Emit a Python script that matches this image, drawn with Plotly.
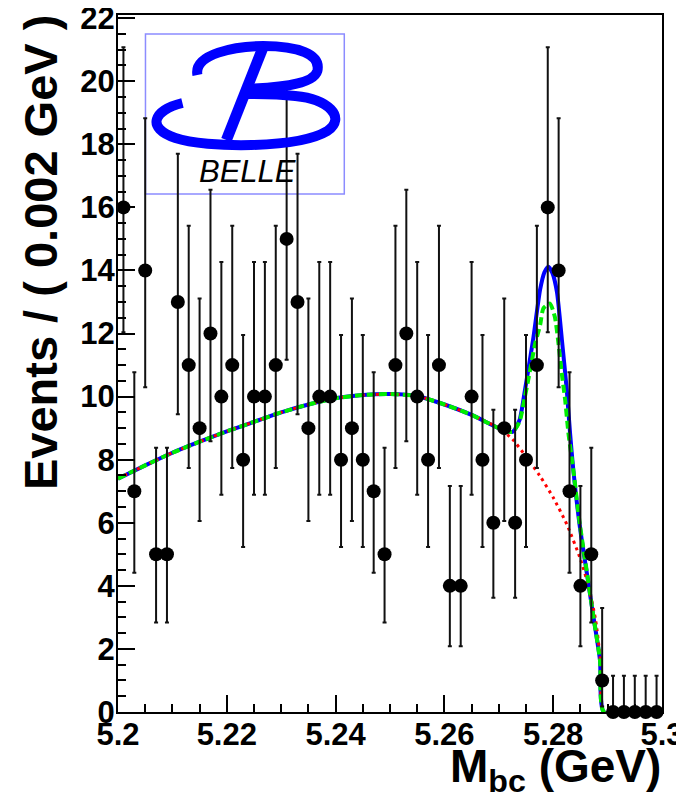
import base64
import plotly.graph_objects as go

# ---------------- data ----------------
bin_centers = [5.201 + 0.002 * i for i in range(50)]
counts = [16, 7, 14, 5, 5, 13, 11, 9, 12, 10,
          11, 8, 10, 10, 11, 15, 13, 9, 10, 10,
          8, 9, 8, 7, 5, 11, 12, 10, 8, 11,
          4, 4, 10, 8, 6, 9, 6, 8, 11, 16,
          14, 7, 4, 5, 1, 0, 0, 0, 0, 0]

# Poisson 68% interval bounds (lower, upper) as drawn for each count value
poisson_lo = {0: 0.0, 1: 0.173, 4: 2.086, 5: 2.840, 6: 3.620, 7: 4.419, 8: 5.232,
              9: 6.057, 10: 6.891, 11: 7.734, 12: 8.585, 13: 9.441, 14: 10.30,
              15: 11.17, 16: 12.04}
poisson_hi = {0: 1.148, 1: 3.300, 4: 7.163, 5: 8.382, 6: 9.584, 7: 10.77, 8: 11.95,
              9: 13.11, 10: 14.27, 11: 15.42, 12: 16.56, 13: 17.70, 14: 18.83,
              15: 19.96, 16: 21.08}

# background curve (red dotted)
bg_x = [5.200, 5.205, 5.210, 5.215, 5.220, 5.225, 5.230, 5.235, 5.240, 5.245,
        5.250, 5.255, 5.260, 5.265, 5.270, 5.2725, 5.275, 5.2775, 5.280, 5.2825,
        5.285, 5.2865, 5.2878, 5.2887, 5.2893, 5.295, 5.300]
bg_y = [7.40, 7.82, 8.22, 8.57, 8.90, 9.20, 9.50, 9.75, 9.95, 10.05,
        10.08, 10.02, 9.75, 9.42, 9.00, 8.65, 8.10, 7.50, 6.80, 5.95,
        4.85, 3.97, 2.92, 1.60, 0.0, 0.0, 0.0]

# total fit (blue solid)
tot_x = [5.200, 5.205, 5.210, 5.215, 5.220, 5.225, 5.230, 5.235, 5.240, 5.245,
         5.250, 5.255, 5.260, 5.265, 5.270, 5.2725, 5.2738, 5.2748, 5.2763, 5.2776,
         5.2784, 5.2791, 5.2799, 5.2807, 5.2816, 5.2825, 5.2831, 5.2837, 5.2849,
         5.2861, 5.2873, 5.2886, 5.2893, 5.295, 5.300]
tot_y = [7.40, 7.82, 8.22, 8.57, 8.90, 9.20, 9.50, 9.75, 9.95, 10.05,
         10.08, 10.02, 9.75, 9.42, 9.00, 8.88, 9.25, 10.20, 11.80, 13.40,
         13.95, 14.12, 13.90, 13.30, 11.80, 10.20, 8.84, 7.67, 5.87,
         4.50, 3.13, 1.65, 0.0, 0.0, 0.0]

# second total curve (green dashed)
alt_x = [5.200, 5.205, 5.210, 5.215, 5.220, 5.225, 5.230, 5.235, 5.240, 5.245,
         5.250, 5.255, 5.260, 5.265, 5.270, 5.2725, 5.2738, 5.2748, 5.2754, 5.2767,
         5.2776, 5.2782, 5.2794, 5.2803, 5.2809, 5.2815, 5.2822, 5.2828, 5.2837,
         5.2849, 5.2861, 5.2873, 5.2886, 5.2893, 5.295, 5.300]
alt_y = [7.40, 7.82, 8.22, 8.57, 8.90, 9.20, 9.50, 9.75, 9.95, 10.05,
         10.08, 10.02, 9.75, 9.42, 9.00, 8.88, 9.20, 10.00, 10.52, 11.69,
         12.27, 12.80, 12.95, 12.53, 11.79, 10.84, 9.89, 8.84, 7.67,
         5.95, 4.55, 3.13, 1.65, 0.0, 0.0, 0.0]

x_tickvals = [5.20, 5.22, 5.24, 5.26, 5.28, 5.30]
x_ticktext = ["5.2", "5.22", "5.24", "5.26", "5.28", "5.3"]
y_tickvals = [0, 2, 4, 6, 8, 10, 12, 14, 16, 18, 20, 22]
y_ticktext = [str(v) for v in y_tickvals]

# ---------------- figure ----------------
W, H = 684, 802
OFF = 8  # page body margin of the rendered html
# plot area in picture pixels: x 117.5..662, y 15..712
PX0, PX1, PY0, PY1 = 117.5, 662.0, 15.0, 712.0
L = PX0 - OFF
T = PY0 - OFF
R = W - (PX1 - OFF)
B = H - (PY1 - OFF)
PW, PH = PX1 - PX0, PY1 - PY0


def px_x(px):
    return (px - PX0) / PW


def px_y(py):
    return (PY1 - py) / PH


err_plus = [poisson_hi[c] - c for c in counts]
err_minus = [c - poisson_lo[c] for c in counts]

fig = go.Figure()

fig.add_trace(go.Scatter(
    x=tot_x, y=tot_y, mode="lines", line=dict(color="#0000ff", width=4, shape="spline", smoothing=0.6),
    hoverinfo="skip", showlegend=False))
fig.add_trace(go.Scatter(
    x=bg_x, y=bg_y, mode="lines",
    line=dict(color="#ff0000", width=3, dash="3px,4px", shape="spline", smoothing=0.6),
    hoverinfo="skip", showlegend=False))
fig.add_trace(go.Scatter(
    x=alt_x, y=alt_y, mode="lines",
    line=dict(color="#00ee00", width=4, dash="8px,4px", shape="spline", smoothing=0.6),
    hoverinfo="skip", showlegend=False))

fig.add_trace(go.Scatter(
    x=bin_centers, y=counts, mode="markers",
    marker=dict(color="black", size=14),
    error_y=dict(type="data", symmetric=False, array=err_plus, arrayminus=err_minus,
                 color="#111111", thickness=2, width=2),
    cliponaxis=False, showlegend=False))

# Belle logo (decoration)
svg = """<svg xmlns='http://www.w3.org/2000/svg' width='199' height='160' viewBox='0 0 199 160' preserveAspectRatio='none'>
<g fill='none' stroke='#0000ff' stroke-linecap='butt'>
<path d='M 52 41 C 48 20, 90 12, 118 12 C 152 12, 176 20, 172 37 C 168 52, 125 54, 98 55' stroke-width='10'/>
<path d='M 37 69 C 8 76, 0 94, 30 104 C 60 114, 152 115, 182 97 C 202 83, 182 65, 150 62 C 130 60, 110 60, 98 60' stroke-width='10'/>
<path d='M 117 15 L 81 106' stroke-width='11'/>
</g></svg>"""
src = "data:image/svg+xml;base64," + base64.b64encode(svg.encode()).decode()
fig.add_layout_image(dict(source=src, xref="paper", yref="paper",
                          x=px_x(145), y=px_y(34), sizex=199 / PW, sizey=160 / PH,
                          xanchor="left", yanchor="top", sizing="stretch", layer="above"))
fig.add_shape(type="rect", xref="paper", yref="paper",
              x0=px_x(145), x1=px_x(344), y0=px_y(194), y1=px_y(34),
              line=dict(color="#8c8cff", width=1.5), layer="below")
fig.add_annotation(text="BELLE", xref="paper", yref="paper", x=px_x(247), y=px_y(172),
                   xanchor="center", yanchor="middle", showarrow=False,
                   font=dict(family="Liberation Sans", size=31, style="italic", color="black"))

# axis titles
fig.add_annotation(text="Events / ( 0.002 GeV )", xref="paper", yref="paper",
                   x=px_x(40), y=px_y(13), xanchor="center", yanchor="top", textangle=-90,
                   showarrow=False,
                   font=dict(family="Liberation Sans", size=47, weight="bold", color="black"))
fig.add_annotation(text="M<sub>bc</sub> (GeV)", xref="paper", yref="paper",
                   x=px_x(663), y=px_y(738), xanchor="right", yanchor="top", showarrow=False,
                   font=dict(family="Liberation Sans", size=46, weight="bold", color="black"))

axis_font = dict(family="Liberation Sans", size=31, weight="bold", color="black")
fig.update_xaxes(range=[5.2, 5.3], tickvals=x_tickvals, ticktext=x_ticktext, automargin=False,
                 ticks="inside", ticklen=17, tickwidth=2, tickcolor="black", ticklabelstandoff=-6,
                 ticklabeloverflow="allow",
                 minor=dict(ticks="inside", ticklen=8, tickwidth=2, dtick=0.005, tickcolor="black", showgrid=False),
                 showline=True, linecolor="black", linewidth=2, mirror=True,
                 showgrid=False, zeroline=False, tickfont=axis_font)
fig.update_yaxes(range=[0, 22.1], tickvals=y_tickvals, ticktext=y_ticktext, automargin=False,
                 ticks="inside", ticklen=17, tickwidth=2, tickcolor="black", ticklabelstandoff=-5,
                 ticklabeloverflow="allow",
                 minor=dict(ticks="inside", ticklen=8, tickwidth=2, dtick=0.5, tickcolor="black", showgrid=False),
                 showline=True, linecolor="black", linewidth=2, mirror=True,
                 showgrid=False, zeroline=False, tickfont=axis_font)

fig.update_layout(width=W, height=H, margin=dict(l=L, r=R, t=T, b=B, pad=0, autoexpand=False),
                  plot_bgcolor="white", paper_bgcolor="white", showlegend=False)

fig.write_html("out.html")
